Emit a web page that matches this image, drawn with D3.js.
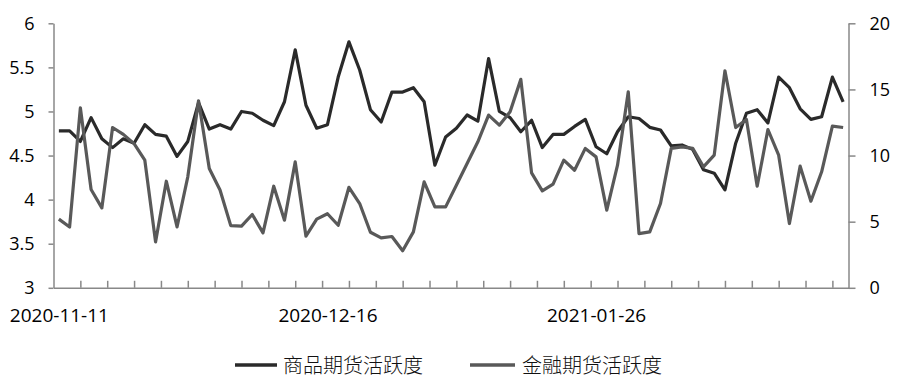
<!DOCTYPE html>
<html>
<head>
<meta charset="utf-8">
<script src="https://cdn.jsdelivr.net/npm/d3@7"></script>
<style>
  html, body { margin: 0; padding: 0; background: #fff; }
  svg { display: block; }
</style>
</head>
<body>
<div id="chart"></div>
<script>
// ---- data ----
const seriesNames = ["商品期货活跃度", "金融期货活跃度"];
const xTickLabels = ["2020-11-11", "2020-12-16", "2021-01-26"];
const xTickLabelIndex = [0, 25, 50];
const leftTicks = [3, 3.5, 4, 4.5, 5, 5.5, 6];
const leftTickLabels = ["3", "3.5", "4", "4.5", "5", "5.5", "6"];
const rightTicks = [0, 5, 10, 15, 20];
const rightTickLabels = ["0", "5", "10", "15", "20"];

// 商品期货活跃度 (left axis)
const commodity = [
  4.78, 4.78, 4.66, 4.93, 4.69, 4.59, 4.69, 4.64, 4.85, 4.74,
  4.72, 4.49, 4.66, 5.10, 4.80, 4.85, 4.80, 5.00, 4.98, 4.90,
  4.84, 5.11, 5.70, 5.07, 4.81, 4.85, 5.39, 5.79, 5.47, 5.02,
  4.88, 5.22, 5.22, 5.27, 5.11, 4.39, 4.71, 4.81, 4.96, 4.89,
  5.60, 5.00, 4.93, 4.77, 4.90, 4.59, 4.74, 4.74, 4.83, 4.91,
  4.60, 4.52, 4.77, 4.94, 4.92, 4.82, 4.79, 4.61, 4.62, 4.57,
  4.34, 4.30, 4.11, 4.64, 4.98, 5.02, 4.87, 5.39, 5.27, 5.03,
  4.91, 4.94, 5.39, 5.11
];
// 金融期货活跃度 (right axis)
const finance = [
  5.19, 4.60, 13.61, 7.43, 6.04, 12.12, 11.60, 10.90, 9.65, 3.47,
  8.06, 4.60, 8.39, 14.14, 9.02, 7.40, 4.70, 4.66, 5.54, 4.15,
  7.68, 5.11, 9.52, 3.90, 5.19, 5.60, 4.73, 7.60, 6.37, 4.20,
  3.77, 3.88, 2.80, 4.23, 8.01, 6.12, 6.12, 7.76, 9.40, 11.04,
  13.06, 12.30, 13.31, 15.76, 8.69, 7.33, 7.84, 9.65, 8.89, 10.54,
  9.90, 5.87, 9.27, 14.82, 4.10, 4.23, 6.37, 10.54, 10.66, 10.54,
  9.15, 10.03, 16.41, 12.12, 12.73, 7.68, 11.97, 10.03, 4.86, 9.20,
  6.55, 8.77, 12.23, 12.12
];

// ---- layout ----
const W = 900, H = 382;
const plot = { left: 53.5, right: 848.5, top: 23.3, bottom: 287.8 };
const N = commodity.length;
const tickStep = 2.5;
const font = "'Open Sans', 'Liberation Sans', sans-serif";
const axisColor = "#888888";

const svg = d3.select("#chart").append("svg")
  .attr("width", W).attr("height", H);

const x = d3.scaleLinear().domain([0, N]).range([plot.left, plot.right]);
const yL = d3.scaleLinear().domain([3, 6]).range([plot.bottom, plot.top]);
const yR = d3.scaleLinear().domain([0, 20]).range([plot.bottom, plot.top]);

function styleAxis(g, size) {
  g.select(".domain").attr("stroke", axisColor).attr("stroke-width", 1.5);
  g.selectAll(".tick line").attr("stroke", axisColor).attr("stroke-width", 1.5);
  g.selectAll("text").attr("fill", "#000").style("font-family", font).style("font-size", (size || 18) + "px");
}

// left axis
svg.append("g")
  .attr("transform", `translate(${plot.left},0)`)
  .call(d3.axisLeft(yL).tickValues(leftTicks).tickSize(5).tickPadding(14)
        .tickFormat((d, i) => leftTickLabels[i]).tickSizeOuter(0))
  .call(g => styleAxis(g, 18));

// right axis
svg.append("g")
  .attr("transform", `translate(${plot.right},0)`)
  .call(d3.axisRight(yR).tickValues(rightTicks).tickSize(7).tickPadding(14)
        .tickFormat((d, i) => rightTickLabels[i]).tickSizeOuter(0))
  .call(g => styleAxis(g, 18));

// bottom axis: tick marks
svg.append("g")
  .attr("transform", `translate(0,${plot.bottom})`)
  .call(d3.axisBottom(x).tickValues(d3.range(tickStep, N, tickStep)).tickSize(-7)
        .tickFormat("").tickSizeOuter(0))
  .call(g => styleAxis(g, 18));

// bottom axis: labels
const xl = svg.append("g")
  .attr("transform", `translate(0,${plot.bottom})`)
  .call(d3.axisBottom(x).tickValues(xTickLabelIndex.map(i => i + 0.5)).tickSize(0).tickPadding(21)
        .tickFormat((d, i) => xTickLabels[i]))
  .call(g => styleAxis(g, 19));
xl.select(".domain").remove();

// lines
const colors = ["#2a2a2a", "#595959"];
const lineL = d3.line().x((d, i) => x(i + 0.5)).y(d => yL(d));
const lineR = d3.line().x((d, i) => x(i + 0.5)).y(d => yR(d));

svg.append("path").datum(commodity)
  .attr("d", lineL).attr("fill", "none")
  .attr("stroke", colors[0]).attr("stroke-width", 3.2).attr("stroke-linejoin", "round");
svg.append("path").datum(finance)
  .attr("d", lineR).attr("fill", "none")
  .attr("stroke", colors[1]).attr("stroke-width", 3.2).attr("stroke-linejoin", "round");

// legend
const legendItems = [
  { x1: 235, x2: 277, tx: 283 },
  { x1: 470, x2: 515, tx: 522 }
];
const lg = svg.append("g");
legendItems.forEach((it, i) => {
  lg.append("line").attr("x1", it.x1).attr("x2", it.x2).attr("y1", 365).attr("y2", 365)
    .attr("stroke", colors[i]).attr("stroke-width", 3.5);
  lg.append("text").attr("x", it.tx).attr("y", 364)
    .attr("dominant-baseline", "central")
    .style("font-family", "'Noto Sans CJK SC', sans-serif")
    .style("font-size", "20px").style("font-weight", 300)
    .attr("fill", "#111")
    .text(seriesNames[i]);
});
</script>
</body>
</html>
